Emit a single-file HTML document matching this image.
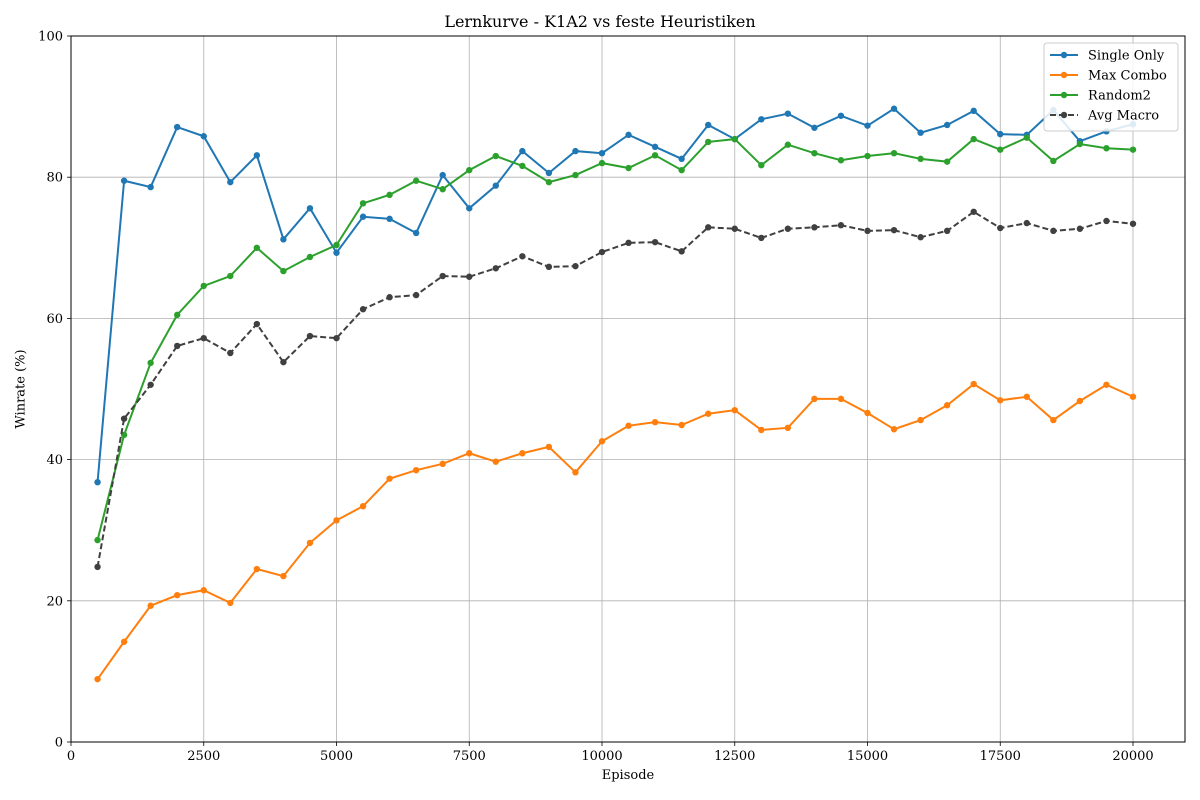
<!DOCTYPE html>
<html><head><meta charset="utf-8"><style>
html,body{margin:0;padding:0;background:#fff;}
svg{display:block;font-family:"DejaVu Serif","Liberation Serif",serif;}
</style></head><body>
<svg id="chart" width="1200" height="800"></svg>
<script>
const episodes = [];
for (let e = 500; e <= 20000; e += 500) episodes.push(e);
const singleOnly = [36.8,79.5,78.6,87.1,85.8,79.3,83.1,71.2,75.6,69.3,74.4,74.1,72.1,80.3,75.6,78.8,83.7,80.6,83.7,83.4,86.0,84.3,82.6,87.4,85.4,88.2,89.0,87.0,88.7,87.3,89.7,86.3,87.4,89.4,86.1,86.0,89.5,85.1,86.5,87.5];
const maxCombo = [8.9,14.2,19.3,20.8,21.5,19.7,24.5,23.5,28.2,31.4,33.4,37.3,38.5,39.4,40.9,39.7,40.9,41.8,38.2,42.6,44.8,45.3,44.9,46.5,47.0,44.2,44.5,48.6,48.6,46.6,44.3,45.6,47.7,50.7,48.4,48.9,45.6,48.3,50.6,48.9];
const random2 = [28.6,43.5,53.7,60.5,64.6,66.0,70.0,66.7,68.7,70.4,76.3,77.5,79.5,78.3,81.0,83.0,81.6,79.3,80.3,82.0,81.3,83.1,81.0,85.0,85.4,81.7,84.6,83.4,82.4,83.0,83.4,82.6,82.2,85.4,83.9,85.6,82.3,84.7,84.1,83.9];
const avgMacro = [24.8,45.8,50.6,56.1,57.2,55.1,59.2,53.8,57.5,57.2,61.3,63.0,63.3,66.0,65.9,67.1,68.8,67.3,67.4,69.4,70.7,70.8,69.5,72.9,72.7,71.4,72.7,72.9,73.2,72.4,72.5,71.5,72.4,75.1,72.8,73.5,72.4,72.7,73.8,73.4];
const xTicks = [0,2500,5000,7500,10000,12500,15000,17500,20000];
const yTicks = [0,20,40,60,80,100];

const NS = "http://www.w3.org/2000/svg";
const svg = document.getElementById("chart");
const L = 71, R = 1185, T = 36, B = 742;
const xs = v => L + v * (1133 - 71) / 20000;
const ys = v => B - v * (B - T) / 100;
function mk(tag, attrs, parent) {
  const el = document.createElementNS(NS, tag);
  for (const k in attrs) el.setAttribute(k, attrs[k]);
  (parent || svg).appendChild(el);
  return el;
}
// grid
xTicks.forEach(t => {
  const g = mk("line", {x1: xs(t), x2: xs(t), y1: T, y2: B, stroke: "#b0b0b0", "stroke-width": 0.8});
  
  
  const tk = mk("line", {x1: xs(t), x2: xs(t), y1: B, y2: B + 4, stroke: "#000", "stroke-width": 0.8});
  
  
  const lb = mk("text", {x: xs(t), y: B + 18, "text-anchor": "middle", "font-size": 13});
  lb.textContent = t;
  
  
});
yTicks.forEach(t => {
  const g = mk("line", {x1: L, x2: R, y1: ys(t), y2: ys(t), stroke: "#b0b0b0", "stroke-width": 0.8});
  
  
  const tk = mk("line", {x1: L - 4, x2: L, y1: ys(t), y2: ys(t), stroke: "#000", "stroke-width": 0.8});
  
  
  const lb = mk("text", {x: L - 8, y: ys(t) + 4.5, "text-anchor": "end", "font-size": 13});
  lb.textContent = t;
  
  
});
const series = [
  {name: "Single Only", data: singleOnly, color: "#1f77b4", dash: null, id: "single-only"},
  {name: "Max Combo", data: maxCombo, color: "#ff7f0e", dash: null, id: "max-combo"},
  {name: "Random2", data: random2, color: "#2ca02c", dash: null, id: "random2"},
  {name: "Avg Macro", data: avgMacro, color: "#404040", dash: "6,3", id: "avg-macro"}
];
series.forEach(s => {
  const pts = s.data.map((v, i) => xs(episodes[i]) + "," + ys(v)).join(" ");
  const a = {points: pts, fill: "none", stroke: s.color, "stroke-width": 2};
  if (s.dash) a["stroke-dasharray"] = s.dash;
  const pl = mk("polyline", a);
  
  
  s.data.forEach((v, i) => {
    const c = mk("circle", {cx: xs(episodes[i]), cy: ys(v), r: 3.2, fill: s.color});
    
    
  });
});
// frame
const fr = mk("rect", {x: L, y: T, width: R - L, height: B - T, fill: "none", stroke: "#000", "stroke-width": 1});


// legend
const lg = mk("g", {});


const lr = mk("rect", {x: 1044, y: 43, width: 134, height: 88, rx: 3, fill: "#fff", "fill-opacity": 0.85, stroke: "#ccc"}, lg);


series.forEach((s, i) => {
  const y = 55 + i * 20;
  const ent = mk("g", {}, lg);
  
  
  const a = {x1: 1050, x2: 1078, y1: y, y2: y, stroke: s.color, "stroke-width": 2};
  if (s.dash) a["stroke-dasharray"] = s.dash;
  mk("line", a, ent);
  mk("circle", {cx: 1064, cy: y, r: 3.2, fill: s.color}, ent);
  const t = mk("text", {x: 1088, y: y + 4.5, "font-size": 13}, ent);
  t.textContent = s.name;
});
</script>
<div style="position:absolute;left:0;top:0;width:1200px;height:800px;pointer-events:none;font-family:'DejaVu Serif','Liberation Serif',serif;">
  <div style="position:absolute;top:12px;left:0;width:1200px;text-align:center;font-size:16px;">Lernkurve - K1A2 vs feste Heuristiken</div>
  <div style="position:absolute;top:768px;left:71px;width:1114px;text-align:center;font-size:13px;">Episode</div>
  <div style="position:absolute;left:21px;top:389px;transform:translate(-50%,-50%) rotate(-90deg);font-size:13px;white-space:nowrap;">Winrate (%)</div>
</div>
</body></html>
